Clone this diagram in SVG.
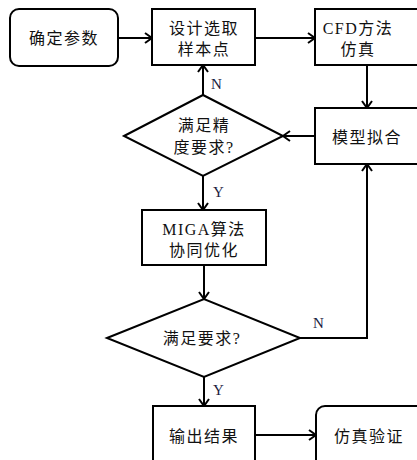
<svg xmlns="http://www.w3.org/2000/svg" width="417" height="460" viewBox="0 0 417 460">
<defs>
<style>
.box{fill:#fff;stroke:#000;stroke-width:2}
.cn{font-family:"Liberation Serif","Noto Sans CJK SC",serif;font-size:16px;fill:#111;text-anchor:middle;letter-spacing:1.5px}
.lb{font-family:"Liberation Serif",serif;font-size:15px;fill:#1a2040}
.edge{fill:none;stroke:#000;stroke-width:2}
</style>
<marker id="arr" markerUnits="userSpaceOnUse" markerWidth="14" markerHeight="14" refX="10" refY="6" orient="auto">
<path d="M3,1 L10,6 L3,11" fill="none" stroke="#000" stroke-width="2"/>
</marker>
</defs>
<rect width="417" height="460" fill="#fff"/>
<g id="connectors">
<line class="edge" x1="118" y1="38" x2="152" y2="38" marker-end="url(#arr)"/>
<line class="edge" x1="255" y1="38" x2="315" y2="38" marker-end="url(#arr)"/>
<line class="edge" x1="367" y1="65" x2="367" y2="108" marker-end="url(#arr)"/>
<line class="edge" x1="315" y1="136" x2="283" y2="136" marker-end="url(#arr)"/>
<line class="edge" x1="203" y1="95" x2="203" y2="65" marker-end="url(#arr)"/>
<line class="edge" x1="203" y1="176" x2="203" y2="210" marker-end="url(#arr)"/>
<line class="edge" x1="204" y1="265" x2="204" y2="299" marker-end="url(#arr)"/>
<polyline class="edge" points="300,338 367,338 367,164" marker-end="url(#arr)"/>
<line class="edge" x1="204" y1="377" x2="204" y2="406" marker-end="url(#arr)"/>
<line class="edge" x1="255" y1="435" x2="316" y2="435" marker-end="url(#arr)"/>
<text class="lb" x="211" y="89">N</text>
<text class="lb" x="213" y="197">Y</text>
<text class="lb" x="313" y="328">N</text>
<text class="lb" x="213" y="395">Y</text>
</g>
<g id="start">
<rect class="box" x="10" y="9" width="108" height="57" rx="9"/>
<text class="cn" x="64" y="44">确定参数</text>
</g>
<g id="design">
<rect class="box" x="152" y="9" width="103" height="56"/>
<text class="cn" x="204" y="34">设计选取</text>
<text class="cn" x="204" y="55">样本点</text>
</g>
<g id="cfd">
<rect class="box" x="315" y="9" width="110" height="56"/>
<text class="cn" x="358" y="34">CFD方法</text>
<text class="cn" x="358" y="55">仿真</text>
</g>
<g id="fit">
<rect class="box" x="315" y="108" width="110" height="56"/>
<text class="cn" x="367" y="143">模型拟合</text>
</g>
<g id="check1">
<polygon class="box" points="124,136 203,95 283,136 203,176"/>
<text class="cn" x="204" y="131">满足精</text>
<text class="cn" x="204" y="153">度要求?</text>
</g>
<g id="miga">
<rect class="box" x="142" y="210" width="124" height="55"/>
<text class="cn" x="204" y="235">MIGA算法</text>
<text class="cn" x="204" y="256">协同优化</text>
</g>
<g id="check2">
<polygon class="box" points="107,338 204,299 300,338 204,377"/>
<text class="cn" x="202" y="344">满足要求?</text>
</g>
<g id="output">
<rect class="box" x="153" y="406" width="102" height="62"/>
<text class="cn" x="204" y="442">输出结果</text>
</g>
<g id="verify">
<rect class="box" x="316" y="406" width="110" height="62" rx="9"/>
<text class="cn" x="369" y="442">仿真验证</text>
</g>
</svg>
